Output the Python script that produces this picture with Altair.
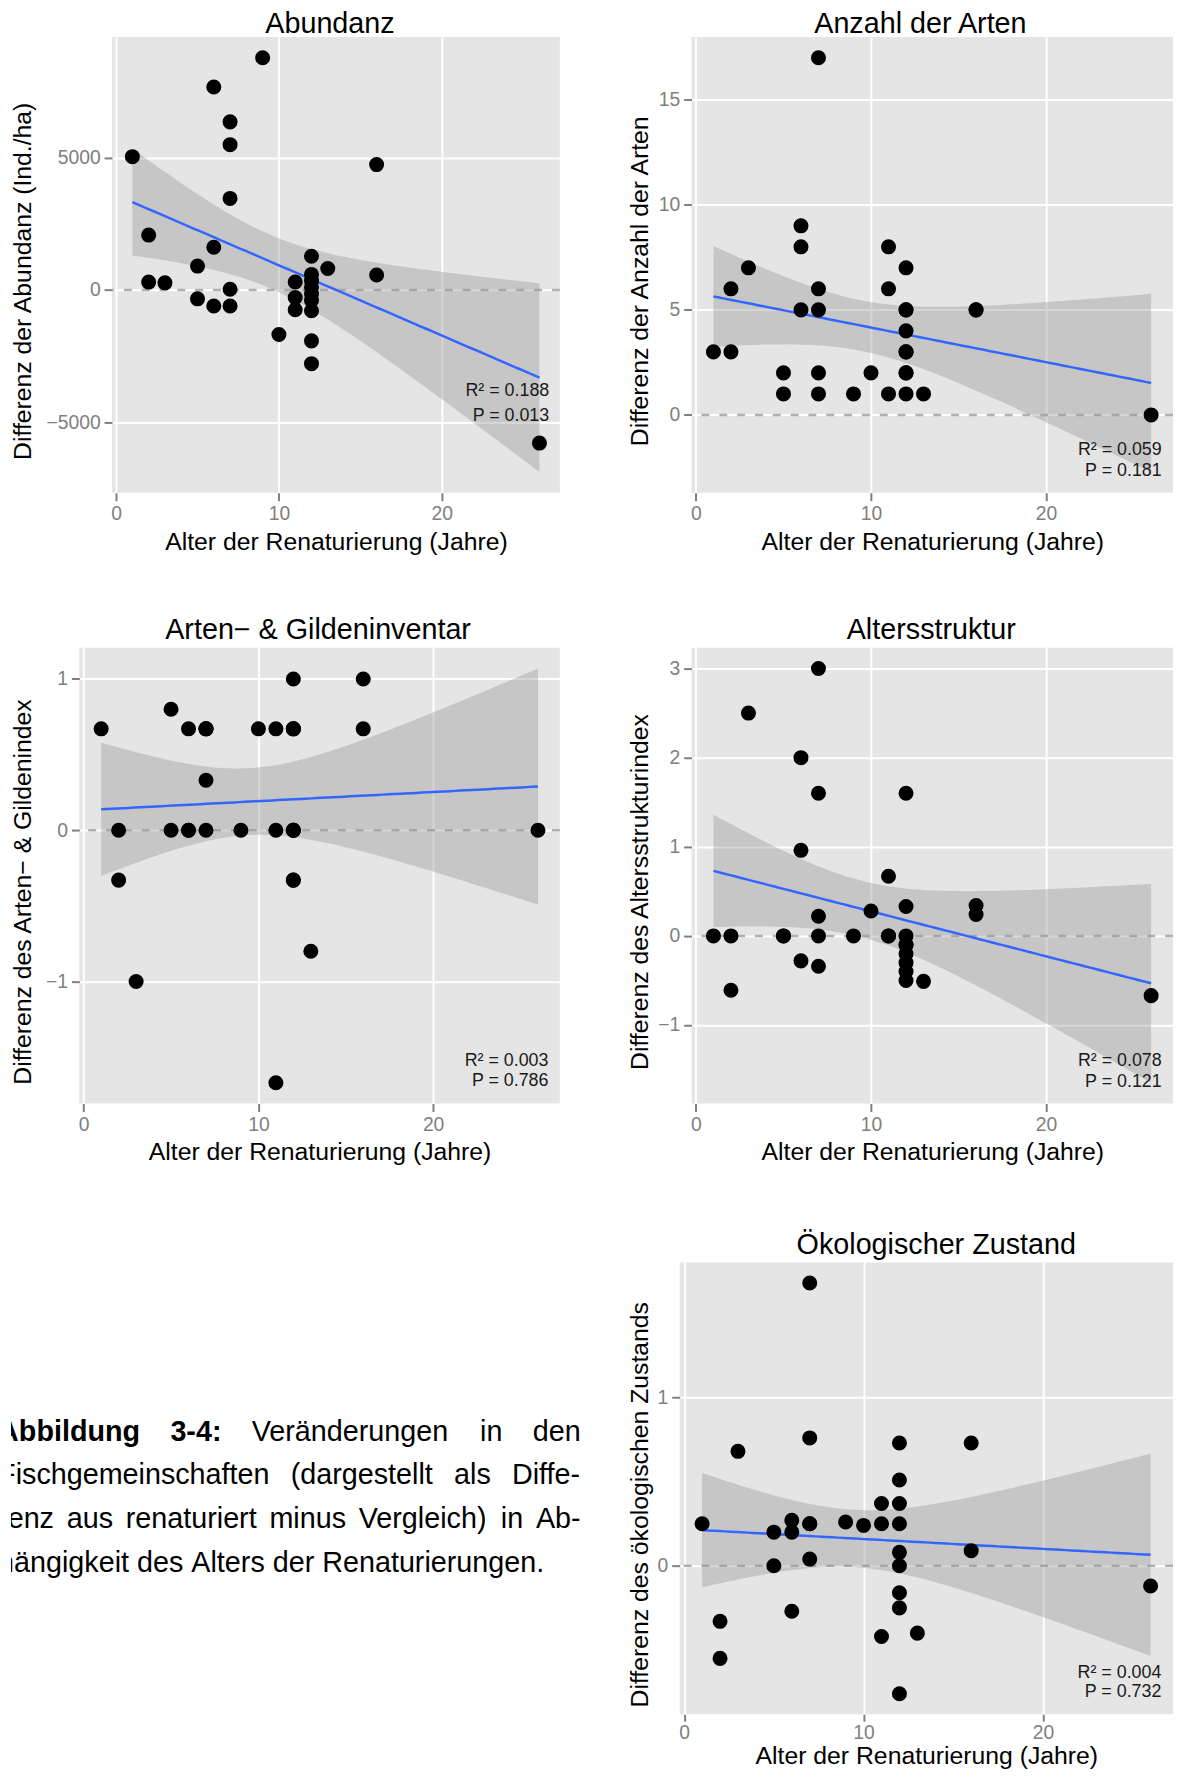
import altair as alt
import numpy as np
import pandas as pd

FONT = "Liberation Sans"

# ---------------- data ----------------
alter = [1, 2, 2, 3, 5, 5, 6, 6, 6, 7, 7, 7, 7, 7, 9, 10, 11, 11, 11,
         12, 12, 12, 12, 12, 12, 12, 12, 12, 13, 16, 16, 26]

abundanz = [5030, 2070, 296, 269, 900, -336, 7661, 1613, -605,
            6344, 5484, 3454, 27, -605, 8763, -1680, 299, -288, -747,
            1270, 586, 350, 100, -150, -400, -784, -1922, -2782,
            810, 4731, 565, -5780]

arten = [3, 6, 3, 7, 2, 1, 9, 8, 5, 17, 6, 5, 2, 1, 1, 2, 8, 6, 1,
         7, 5, 5, 4, 3, 3, 2, 2, 1, 1, 5, 5, 0]

gilden = [0.67, 0, -0.33, -1, 0.8, 0, 0.67, 0, 0, 0.67, 0.67, 0.67, 0.33, 0,
          0, 0.67, 0.67, 0, -1.67,
          1, 0.67, 0.67, 0.67, 0, 0, 0, -0.33, -0.33, -0.8, 1, 0.67, 0]

altersstruktur = [0, 0, -0.61, 2.5, 0, 0, 2.0, 0.96, -0.28, 3.0, 1.6, 0.22, 0, -0.34,
                  0, 0.28, 0.67, 0, 0,
                  1.6, 0.33, 0, -0.1, -0.1, -0.2, -0.3, -0.4, -0.5, -0.51,
                  0.34, 0.24, -0.67]

oekologie = [0.25, -0.33, -0.55, 0.68, 0.2, 0, 0.27, 0.2, -0.27, 1.68, 0.76, 0.25, 0.25, 0.04,
             0.26, 0.24, 0.37, 0.25, -0.42,
             0.73, 0.51, 0.37, 0.25, 0.08, 0, -0.16, -0.25, -0.76, -0.4,
             0.73, 0.09, -0.12]

titles = ["Abundanz", "Anzahl der Arten", "Arten\u2212 & Gildeninventar",
          "Altersstruktur", "\u00d6kologischer Zustand"]
ytitles = ["Differenz der Abundanz (Ind./ha)", "Differenz der Anzahl der Arten",
           "Differenz des Arten\u2212 & Gildenindex", "Differenz des Altersstrukturindex",
           "Differenz des \u00f6kologischen Zustands"]
yticks = [[-5000, 0, 5000], [0, 5, 10, 15], [-1, 0, 1], [-1, 0, 1, 2, 3], [0, 1]]
xticks = [0, 10, 20]
r2_vals = ["0.188", "0.059", "0.003", "0.078", "0.004"]
p_vals = ["0.013", "0.181", "0.786", "0.121", "0.732"]
XTITLE = "Alter der Renaturierung (Jahre)"

caption_lines = [
    [("Abbildung", True), ("3-4:", True), ("Ver\u00e4nderungen", False), ("in", False), ("den", False)],
    [("Fischgemeinschaften", False), ("(dargestellt", False), ("als", False), ("Diffe-", False)],
    [("renz", False), ("aus", False), ("renaturiert", False), ("minus", False),
     ("Vergleich)", False), ("in", False), ("Ab-", False)],
    [("h\u00e4ngigkeit", False), ("des", False), ("Alters", False), ("der", False),
     ("Renaturierungen.", False)],
]

# annotation anchors (data coordinates, like ggplot's annotate)
STAT_X = 26.6
stat_y = [[-3831, -4772], [-1.68, -2.66], [-1.526, -1.658], [-1.40, -1.637], [-0.635, -0.753]]

# ---------------- helpers ----------------
def t975(df):
    z = 1.959964
    g1 = (z**3 + z) / 4
    g2 = (5 * z**5 + 16 * z**3 + 3 * z) / 96
    g3 = (3 * z**7 + 19 * z**5 + 17 * z**3 - 15 * z) / 384
    return z + g1 / df + g2 / df**2 + g3 / df**3


def lm_fit(xv, yv, n=80):
    x = np.asarray(xv, float)
    y = np.asarray(yv, float)
    N = len(x)
    b, a = np.polyfit(x, y, 1)
    res = y - (a + b * x)
    s = np.sqrt((res**2).sum() / (N - 2))
    sxx = ((x - x.mean())**2).sum()
    xs = np.linspace(x.min(), x.max(), n)
    yh = a + b * xs
    se = s * np.sqrt(1.0 / N + (xs - x.mean())**2 / sxx)
    t = t975(N - 2)
    return xs, yh, yh - t * se, yh + t * se


GREY = "#7F7F7F"
H = 460


def panel(xv, yv, idx, width, title_x, title_cx, title_y, height=H, xtitle_y=57,
          xtick=8, xlabpad=4):
    x = np.asarray(xv, float)
    y = np.asarray(yv, float)
    xs, yh, lo, hi = lm_fit(x, y)
    ymin = min(y.min(), lo.min())
    ymax = max(y.max(), hi.max())
    pad = 0.05 * (ymax - ymin)
    xpad = 0.05 * (x.max() - x.min())
    xsc = alt.Scale(domain=[x.min() - xpad, x.max() + xpad], nice=False, zero=False)
    ysc = alt.Scale(domain=[ymin - pad, ymax + pad], nice=False, zero=False)

    xax = alt.Axis(values=xticks, title=XTITLE, format="d", grid=True, gridColor="white",
                   gridWidth=2, domain=False, tickColor=GREY, tickSize=xtick, tickWidth=2,
                   labelColor=GREY, labelFontSize=19.5, labelPadding=xlabpad, labelFlush=False,
                   titleFontSize=25, titleFontWeight="normal", titleColor="black",
                   titleY=xtitle_y, titleBaseline="alphabetic")
    yax = alt.Axis(values=yticks[idx], title=ytitles[idx], format="d", grid=True,
                   gridColor="white", gridWidth=2, domain=False, tickColor=GREY, tickSize=8,
                   tickWidth=2, labelColor=GREY, labelFontSize=19.5, labelPadding=4,
                   labelFlush=False, titleFontSize=25, titleFontWeight="normal",
                   titleColor="black", titleX=title_x, titleY=height / 2 + 16,
                   titleBaseline="middle")

    pts = pd.DataFrame({"x": x, "y": y})
    fitdf = pd.DataFrame({"x": xs, "fit": yh, "lo": lo, "hi": hi})
    zero = pd.DataFrame({"y": [0.0]})
    stat = pd.DataFrame({"x": [STAT_X, STAT_X], "y": stat_y[idx],
                         "t": [f"R\u00b2 = {r2_vals[idx]}", f"P = {p_vals[idx]}"]})
    ttl = pd.DataFrame({"t": [titles[idx]]})

    hline = alt.Chart(zero).mark_rule(color="#B0B0B0", strokeWidth=2.5,
                                      strokeDash=[8, 10]).encode(
        y=alt.Y("y:Q", scale=ysc, axis=yax))
    band = alt.Chart(fitdf).mark_area(color="#999999", opacity=0.4).encode(
        x=alt.X("x:Q", scale=xsc, axis=xax),
        y=alt.Y("lo:Q", scale=ysc, axis=yax), y2="hi:Q")
    line = alt.Chart(fitdf).mark_line(color="#3366FF", strokeWidth=2.5).encode(
        x=alt.X("x:Q", scale=xsc, axis=xax),
        y=alt.Y("fit:Q", scale=ysc, axis=yax))
    dots = alt.Chart(pts).mark_circle(size=230, color="black", opacity=1).encode(
        x=alt.X("x:Q", scale=xsc, axis=xax),
        y=alt.Y("y:Q", scale=ysc, axis=yax))
    txt = alt.Chart(stat).mark_text(align="right", baseline="middle", fontSize=18,
                                    color="#1a1a1a").encode(
        x=alt.X("x:Q", scale=xsc, axis=xax),
        y=alt.Y("y:Q", scale=ysc, axis=yax), text="t:N")
    head = alt.Chart(ttl).mark_text(align="center", baseline="alphabetic", fontSize=29,
                                    color="black").encode(
        x=alt.value(title_cx), y=alt.value(title_y), text="t:N")

    return alt.layer(hline, band, line, dots, txt, head).properties(
        width=width, height=height,
        view=alt.ViewBackground(fill="#E5E5E5", stroke="transparent"))


def spacer(w):
    return alt.Chart(pd.DataFrame({"a": [0]})).mark_point(opacity=0).encode(
        x=alt.value(0), y=alt.value(0)).properties(
        width=w, height=H, view=alt.ViewBackground(fill="transparent", stroke="transparent"))


# ---------------- caption (justified text) ----------------
AR = {' ': 278, '(': 333, ')': 333, '-': 333, '.': 278, ':': 278,
      'A': 667, 'D': 722, 'F': 611, 'R': 722, 'V': 667,
      'a': 556, 'b': 556, 'c': 500, 'd': 556, 'e': 556, 'f': 278, 'g': 556, 'h': 556,
      'i': 222, 'k': 500, 'l': 222, 'm': 833, 'n': 556, 'o': 556, 'r': 333, 's': 500,
      't': 278, 'u': 556, 'v': 500, 'z': 500, '\u00e4': 556}
ARB = {' ': 278, 'A': 722, 'b': 611, 'i': 278, 'l': 278, 'd': 611, 'u': 611, 'n': 611,
       'g': 611, '3': 556, '-': 333, '4': 556, ':': 333}
CAP_FS = 29


def tw(s, bold):
    tab = ARB if bold else AR
    return sum(tab.get(c, 556) for c in s) / 1000.0 * CAP_FS


CAP_L, CAP_R = -13, 575
CAP_BASE0, CAP_LEAD = 180, 44
rows = []
for li, words in enumerate(caption_lines):
    widths = [tw(w, b) for w, b in words]
    last = li == len(caption_lines) - 1
    gap = tw(" ", False) if last else (CAP_R - CAP_L - sum(widths)) / (len(words) - 1)
    xpos = CAP_L
    for (w, b), wd in zip(words, widths):
        rows.append({"w": w, "px": xpos, "py": CAP_BASE0 + li * CAP_LEAD, "bold": int(b)})
        xpos += wd + gap
cap_df = pd.DataFrame(rows)

cap_bold = alt.Chart(cap_df[cap_df.bold == 1]).mark_text(
    align="left", baseline="alphabetic", fontSize=CAP_FS, fontWeight="bold",
    color="black", clip=True).encode(
    x=alt.X("px:Q", scale=None, axis=None), y=alt.Y("py:Q", scale=None, axis=None),
    text="w:N")
cap_norm = alt.Chart(cap_df[cap_df.bold == 0]).mark_text(
    align="left", baseline="alphabetic", fontSize=CAP_FS, color="black", clip=True).encode(
    x=alt.X("px:Q", scale=None, axis=None), y=alt.Y("py:Q", scale=None, axis=None),
    text="w:N")
caption = alt.layer(cap_bold, cap_norm).properties(
    width=675, height=H, view=alt.ViewBackground(fill="transparent", stroke="transparent"))

# ---------------- panels & layout ----------------
p1 = panel(alter, abundanz, 0, 452, -90, 220, -4)
p2 = panel(alter, arten, 1, 486, -52.5, 231, -4)
p3 = panel(alter, gilden, 2, 485, -57, 241, -9)
p4 = panel(alter, altersstruktur, 3, 486, -52.5, 242, -9)
p5 = panel(alter, oekologie, 4, 498, -40.5, 259, -9, height=456, xtitle_y=50,
           xtick=7, xlabpad=2)

row1 = alt.hconcat(spacer(102), p1, spacer(133), p2, spacing=0, bounds="flush")
row2 = alt.hconcat(spacer(69), p3, spacer(133), p4, spacing=0, bounds="flush")
row3 = alt.hconcat(caption, p5, spacing=0, bounds="flush")

top = alt.vconcat(row1, row2, spacing=62.5)
chart = alt.vconcat(top, row3, spacing=66).properties(
    padding={"left": 0, "top": -6, "right": 0, "bottom": 0}
).configure(font=FONT).configure_view(strokeWidth=0)

chart.save("out.html", embed_options={"renderer": "svg", "actions": False})
